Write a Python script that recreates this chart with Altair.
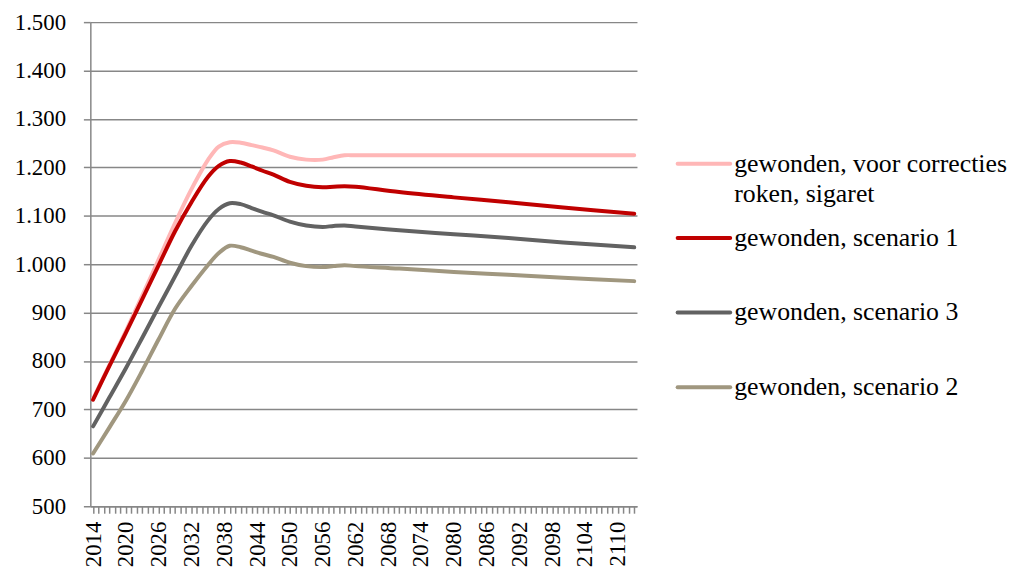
import altair as alt
import pandas as pd

# ---- data ----
years = [2014, 2017, 2020, 2023, 2026, 2029, 2032, 2035, 2037, 2039, 2041, 2043,
         2045, 2047, 2050, 2053, 2056, 2058, 2060, 2062, 2070, 2080, 2090, 2100, 2113]

pink_vals = [722, 792, 862, 935, 1010, 1085, 1155, 1215, 1243, 1252, 1251, 1246,
             1241, 1235, 1222, 1216, 1216, 1221, 1225, 1225, 1225, 1225, 1225, 1225, 1225]
red_vals = [720, 790, 858, 928, 998, 1068, 1128, 1180, 1203, 1213, 1210, 1202,
            1193, 1185, 1170, 1162, 1159, 1160, 1161, 1160, 1149, 1138, 1128, 1117, 1104]
gray_vals = [665, 725, 785, 848, 912, 975, 1038, 1090, 1114, 1126, 1124, 1116,
             1108, 1101, 1088, 1080, 1077, 1079, 1080, 1078, 1070, 1062, 1054, 1045, 1035]
beige_vals = [609, 663, 718, 780, 845, 908, 955, 998, 1023, 1038, 1035, 1028,
              1021, 1015, 1003, 996, 994, 996, 998, 996, 991, 984, 978, 972, 965]

series_names = ["gewonden, voor correcties roken, sigaret", "gewonden, scenario 1",
                "gewonden, scenario 3", "gewonden, scenario 2"]
legend_lines = [["gewonden, voor correcties", "roken, sigaret"],
                ["gewonden, scenario 1"], ["gewonden, scenario 3"], ["gewonden, scenario 2"]]
series_colors = ["#FFB7B7", "#C00000", "#626262", "#A0977F"]
all_values = [pink_vals, red_vals, gray_vals, beige_vals]

tick_years = list(range(2014, 2114))
y_ticks = list(range(500, 1501, 100))

rows = []
for name, vals in zip(series_names, all_values):
    for yr, v in zip(years, vals):
        rows.append({"year": yr, "value": v, "series": name})
df = pd.DataFrame(rows)

FONT = "Liberation Serif"
GRAY = "#878787"

x_enc = alt.X(
    "year:Q",
    scale=alt.Scale(domain=[2013.5, 2113.5], nice=False, zero=False),
    axis=alt.Axis(
        values=tick_years,
        labelExpr="(datum.value - 2014) % 6 == 0 ? toString(datum.value) : ''",
        labelAngle=270, labelOverlap=False, labelFlush=False, labelBound=False,
        grid=False, tickSize=7, labelPadding=8, title=None, labelFontSize=23,
    ),
)
y_enc = alt.Y(
    "value:Q",
    scale=alt.Scale(domain=[500, 1500], nice=False, zero=False),
    axis=alt.Axis(
        values=y_ticks,
        labelExpr="replace(format(datum.value, ','), ',', '.')",
        grid=True, tickSize=7, labelPadding=18, title=None, labelFontSize=23,
    ),
)

layers = []
for name, col in zip(series_names, series_colors):
    layers.append(
        alt.Chart(df)
        .transform_filter(alt.datum.series == name)
        .mark_line(strokeWidth=4, strokeCap="round", strokeJoin="round",
                   interpolate="catmull-rom")
        .encode(x=x_enc, y=y_enc, color=alt.value(col))
    )

# manual legend (Excel style), positioned to the right of the plot area
legend_y = [142.7, 217.7, 292.7, 368.0]
for lines, col, ly in zip(legend_lines, series_colors, legend_y):
    layers.append(
        alt.Chart(pd.DataFrame({"k": [0]}))
        .mark_rule(strokeWidth=4, strokeCap="round")
        .encode(x=alt.value(592), x2=alt.value(645), y=alt.value(ly), color=alt.value(col))
    )
    for i, txt in enumerate(lines):
        layers.append(
            alt.Chart(pd.DataFrame({"label": [txt]}))
            .mark_text(align="left", baseline="middle", font=FONT, fontSize=26, color="#000000")
            .encode(text="label:N", x=alt.value(649), y=alt.value(ly + i * 30.5))
        )

chart = (
    alt.layer(*layers)
    .properties(width=551, height=488, padding={"left": 6, "top": 1, "right": 0, "bottom": 0})
    .configure_view(stroke=None)
    .configure_axis(
        domainColor=GRAY, domainWidth=1.5, tickColor=GRAY, tickWidth=1.5,
        gridColor=GRAY, gridWidth=1.5, gridOpacity=1,
        labelFont=FONT, labelColor="#000000",
    )
)

chart.save("out.html", embed_options={"renderer": "svg", "actions": False})
